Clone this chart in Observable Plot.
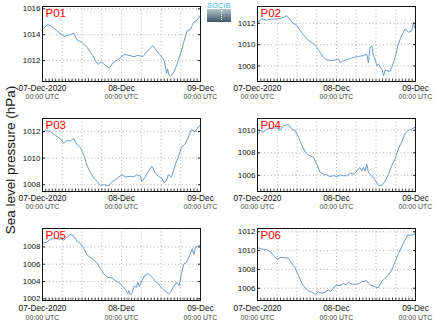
<!DOCTYPE html>
<html><head><meta charset="utf-8">
<script src="https://cdn.jsdelivr.net/npm/d3@7"></script>
<script src="https://cdn.jsdelivr.net/npm/@observablehq/plot@0.6"></script>
<style>
body{margin:0;background:#fff;font-family:"Liberation Sans",Arial,sans-serif;}
#wrap{position:relative;width:434px;height:327px;overflow:hidden;background:#fff;}
.panel{position:absolute;}
#ytitle{position:absolute;left:10px;top:160px;transform:translate(-50%,-50%) rotate(-90deg);font-size:13.5px;white-space:nowrap;color:#111;}
#logo{position:absolute;left:207px;top:2px;width:24px;}
#logo .lt{font-size:7px;line-height:7px;color:#35b4cf;text-align:center;letter-spacing:0.3px;}
#logo .lb{height:13px;background:linear-gradient(#b4c5cc,#3d5664);position:relative;}
#logo .lb:after{content:"";position:absolute;left:14px;top:1px;height:10px;border-left:1px dotted #fff;}
</style></head><body><div id="wrap">
<div id="ytitle">Sea level pressure (hPa)</div>
<div id="logo"><div class="lt">SOCIB</div><div class="lb"></div></div>
</div>
<script>
// hours since 07-Dec-2020 00:00 UTC
const panelNames = ["P01","P02","P03","P04","P05","P06"];
const xTickHours = [0, 24, 48];
const xTickDates = ["07-Dec-2020", "08-Dec", "09-Dec"];
const xTickTimes = ["00:00 UTC", "00:00 UTC", "00:00 UTC"];

const p01Hours = [0,1.4,2.5,6.5,9.5,10.5,12,13.6,15.2,16.8,17.8,18.8,20.3,21.3,22.8,24.8,26.3,27.8,29,30.5,32,33.5,34.5,35.8,37,37.7,38,38.4,38.9,39.9,40.9,41.9,42.9,43.9,44.9,45.9,46.9,48];
const p01Values = [1014.38,1014.76,1014.7,1013.86,1014.1,1013.6,1013.4,1013.0,1012.4,1011.7,1011.9,1011.7,1011.4,1011.8,1012.05,1012.47,1012.4,1012.3,1012.4,1012.3,1012.77,1013.16,1012.8,1012.4,1012.0,1011.0,1011.35,1010.9,1010.8,1011.1,1011.75,1012.5,1013.4,1014.27,1014.4,1014.96,1015.1,1015.5];

const p02Hours = [0,1.3,2.8,4.4,5.9,7.4,8.9,9.4,10.4,11.9,13,14.5,15.5,17,18,19,20,21.1,22.6,23.6,24.6,25.1,26.1,27.6,29.2,30.7,32.2,33.2,33.7,34.2,34.7,35.2,35.7,36.3,36.8,37.3,37.8,38.3,38.8,39.3,40.3,40.8,41.8,42.8,43.8,44.8,45.9,46.9,47.4,47.7,48];
const p02Values = [1012.1,1012.4,1012.3,1012.4,1012.4,1012.5,1012.7,1012.56,1012.1,1011.8,1011.3,1010.7,1010.4,1010.1,1009.75,1009.3,1008.8,1008.56,1008.5,1008.56,1008.66,1008.34,1008.5,1008.66,1008.8,1008.9,1008.97,1009.1,1008.3,1009.75,1009.9,1009.0,1008.66,1008.0,1008.2,1007.9,1007.7,1007.1,1007.6,1007.56,1007.5,1007.9,1008.8,1010.06,1010.84,1011.47,1011.16,1011.3,1012.1,1011.6,1011.8];

const p03Hours = [0,0.9,2.4,3.9,5.5,6.5,7.3,8.5,9.5,10.3,11.5,12.6,13.6,14.6,15.6,16.6,17.6,18.6,20.2,21.2,22.2,23.2,24.2,25.2,26.7,27.7,28.7,29.7,30.2,31.2,32.2,33.2,34.2,35.2,36.2,36.9,37.7,38.2,39.2,40.2,41.2,42.2,43.3,44.3,45.3,46.3,47.3,48];
const p03Values = [1011.9,1012.08,1012.0,1011.7,1011.44,1011.1,1011.3,1011.3,1011.44,1011.06,1010.8,1010.18,1009.4,1008.9,1008.5,1008.25,1007.95,1008.0,1007.92,1008.25,1008.37,1008.58,1008.75,1008.58,1008.63,1008.58,1008.75,1008.67,1008.25,1008.58,1009.0,1009.4,1008.9,1008.63,1008.5,1008.17,1008.32,1008.75,1008.58,1009.4,1010.05,1010.8,1011.06,1011.57,1012.15,1011.95,1012.33,1012.46];

const p04Hours = [0,0.8,1.8,2.8,4.4,5.9,6.9,7.9,9.4,10.4,11.4,12.4,13.5,14.5,15.5,17,18,19,20,21.1,22,23.1,24.1,25.1,26.1,27.1,28.2,29.2,30.2,31,31.7,32.2,32.7,33.2,33.7,34.7,35.7,36.7,37.7,38.8,39.8,40.8,41.8,42.8,43.8,44.8,45.9,46.9,48];
const p04Values = [1009.6,1010.0,1009.85,1010.1,1010.2,1010.2,1010.0,1010.4,1010.5,1010.1,1010.0,1009.4,1008.66,1008.06,1007.8,1007.6,1007.0,1006.27,1006.1,1006.03,1005.9,1005.97,1005.9,1006.03,1005.97,1005.97,1006.2,1006.1,1006.4,1006.7,1006.4,1006.7,1006.4,1007.0,1006.27,1005.97,1005.6,1005.13,1005.07,1005.5,1006.1,1006.87,1007.46,1008.36,1008.96,1009.7,1010.0,1010.1,1010.3];

const p05Hours = [0,1.4,2.4,3.9,5.5,6.5,7.5,8.5,9.5,10.5,11.5,12.6,13.6,15.1,16.6,17.6,18.6,19.6,21.1,22.1,23.2,24.2,25.2,25.9,26.2,26.7,27.2,27.9,28.5,29,29.4,30.2,31.2,32.2,33.2,34.2,35.2,36.7,38.2,38.7,39.7,40.7,41.5,42.2,42.9,43.7,44.7,45.5,46,46.5,47.2,48];
const p05Values = [1008.4,1008.58,1008.9,1008.97,1008.9,1008.78,1009.16,1009.43,1009.28,1008.66,1008.4,1007.8,1007.03,1006.64,1006.1,1005.5,1004.9,1004.5,1004.4,1004.1,1003.9,1003.5,1003.1,1002.6,1002.95,1002.45,1002.7,1003.5,1003.3,1003.9,1003.4,1004.1,1004.77,1004.9,1004.5,1004.1,1003.7,1003.05,1002.6,1002.66,1003.3,1003.9,1003.5,1004.9,1006.0,1006.2,1007.0,1007.8,1007.1,1008.0,1008.1,1008.27];

const p06Hours = [0,1.3,2.8,3.8,4.8,5.9,6.9,7.9,9.4,10.4,11.4,12.4,13.5,14.5,15.5,16.5,17.5,18.5,19.5,20.5,21.6,22.3,23.1,24.1,25.1,26.1,26.9,27.6,28.7,29.7,30.7,31.7,33.2,34.2,35.2,36.7,37.7,38.8,39.8,40.8,41.8,42.8,43.8,44.8,45.6,46.9,48];
const p06Values = [1010.3,1010.17,1010.1,1009.93,1009.5,1009.1,1009.26,1009.26,1009.2,1008.66,1008.2,1007.4,1006.5,1006.0,1005.7,1005.6,1005.36,1005.6,1005.48,1005.6,1005.83,1005.65,1006.07,1006.3,1006.3,1006.5,1006.36,1006.64,1006.43,1006.43,1006.5,1006.7,1006.8,1006.36,1006.2,1006.07,1006.7,1007.1,1007.4,1007.93,1008.8,1009.7,1010.4,1011.1,1011.65,1011.65,1011.8];

const yDomains = [[1010.38,1016.18],[1006.55,1013.57],[1007.49,1012.97],[1004.57,1011.04],[1001.8,1010.13],[1004.7,1012.35]];
const yTicks = [[1012,1014,1016],[1008,1010,1012],[1008,1010,1012],[1006,1008,1010],[1002,1004,1006,1008],[1006,1008,1010,1012]];

const hoursList = [p01Hours,p02Hours,p03Hours,p04Hours,p05Hours,p06Hours];
const valuesList = [p01Values,p02Values,p03Values,p04Values,p05Values,p06Values];

const lefts = [0, 215];
const tops = [0, 112, 222];
const areaHeights = [75, 73, 72];
const labelShift = [0, 0, 1.5];
const font = "Liberation Sans, Arial, Helvetica, sans-serif";
const wrap = document.getElementById("wrap");

panelNames.forEach((name, i) => {
  const row = Math.floor(i / 2), col = i % 2;
  const data = hoursList[i].map((h, k) => ({h, v: valuesList[i][k]}));
  const areaH = areaHeights[row];
  const chart = Plot.plot({
    width: 210, height: 6 + areaH + 26,
    marginTop: 6, marginLeft: 42, marginRight: 10, marginBottom: 26,
    x: {domain: [0, 48], axis: null},
    y: {domain: yDomains[i], axis: null},
    style: {fontFamily: font, background: "transparent", overflow: "visible"},
    marks: [
      Plot.gridX(d3.range(6, 48, 6), {stroke: "#aaa", strokeOpacity: 0.9, strokeDasharray: "1,2.5"}),
      Plot.gridY(yTicks[i], {stroke: "#aaa", strokeOpacity: 0.9, strokeDasharray: "1,2.5"}),
      Plot.line(data, {x: "h", y: "v", stroke: "#6a9bc9", strokeWidth: 1}),
      Plot.axisY(yTicks[i], {anchor: "left", tickSize: -3, tickPadding: 5, fontSize: 8, tickFormat: d => String(d), stroke: "#222", fill: "#111", label: null}),
      Plot.axisY(yTicks[i], {anchor: "right", tickSize: -3, tickFormat: () => "", stroke: "#222", label: null}),
      Plot.axisX(d3.range(0, 49, 1), {anchor: "bottom", tickSize: -2.5, tickFormat: () => "", stroke: "#444", label: null}),
      Plot.frame({stroke: "#111", strokeWidth: 1}),
      Plot.text([name], {frameAnchor: "top-left", dx: 3, dy: 2, text: d => d, fill: "#ff0000", fontSize: 11.5, textAnchor: "start", lineAnchor: "top"}),
      Plot.text(xTickHours, {x: d => d, frameAnchor: "bottom", dy: 9 + labelShift[row], text: (d, k) => xTickDates[k], fontSize: 8.3, fill: "#111"}),
      Plot.text(xTickHours, {x: d => d, frameAnchor: "bottom", dy: 17.5 + labelShift[row], text: (d, k) => xTickTimes[k], fontSize: 7, fill: "#444"})
    ]
  });
  const div = document.createElement("div");
  div.className = "panel";
  div.style.left = lefts[col] + "px";
  div.style.top = tops[row] + "px";
  div.appendChild(chart);
  wrap.appendChild(div);
});
</script>
</body></html>
